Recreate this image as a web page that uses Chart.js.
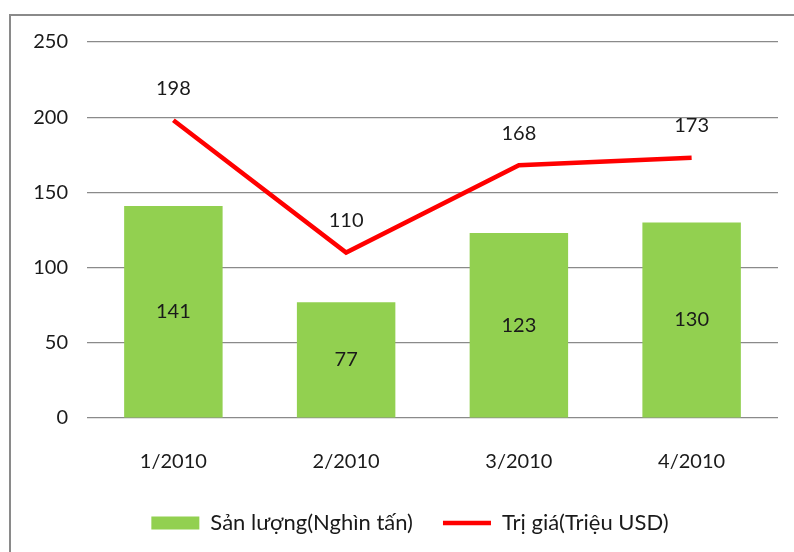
<!DOCTYPE html>
<html>
<head>
<meta charset="utf-8">
<script src="https://cdn.jsdelivr.net/npm/chart.js@4"></script>
<style>
  body { margin: 0; background: #fff; }
  #frame { position: absolute; left: 9px; top: 14px; width: 800px; height: 560px; border: 2px solid #8a8a8a; }
  #wrap { position: absolute; left: 0; top: 0; width: 794px; height: 552px; }
</style>
</head>
<body>
<div id="frame"></div>
<div id="wrap"><canvas id="chart" width="794" height="552"></canvas></div>
<script>
// data
let months = ["1/2010", "2/2010", "3/2010", "4/2010"];
let sanLuong = [141, 77, 123, 130];   // Nghìn tấn
let triGia = [198, 110, 168, 173];    // Triệu USD
let yTicks = [0, 50, 100, 150, 200, 250];

const FONT = "Lato";

// value labels: middle of the bar, above the line points
const valueLabels = {
  id: "valueLabels",
  afterDatasetsDraw(chart) {
    const ctx = chart.ctx;
    ctx.save();
    ctx.font = "20px " + FONT;
    ctx.fillStyle = "#1a1a1a";
    ctx.textAlign = "center";
    ctx.textBaseline = "middle";
    chart.getDatasetMeta(0).data.forEach((bar, i) => {
      ctx.fillText(sanLuong[i], bar.x, (bar.y + bar.base) / 2);
    });
    chart.getDatasetMeta(1).data.forEach((pt, i) => {
      ctx.fillText(triGia[i], pt.x, pt.y - 32);
    });
    ctx.restore();
  }
};

// legend sits a bit right of centre in the original
const shiftLegend = {
  id: "shiftLegend",
  afterLayout(chart) {
    chart.legend.left += 21;
    chart.legend.right += 21;
  }
};

let ctx = document.getElementById("chart").getContext("2d");
let myChart = new Chart(ctx, {
  data: {
    labels: months,
    datasets: [
      {
        type: "bar",
        label: "Sản lượng(Nghìn tấn)",
        data: sanLuong,
        backgroundColor: "#92D050",
        borderWidth: 0,
        barPercentage: 0.57,
        categoryPercentage: 1,
        pointStyle: "rect",
        order: 2,
      },
      {
        type: "line",
        label: "Trị giá(Triệu USD)",
        data: triGia,
        borderColor: "#FF0000",
        backgroundColor: "#FF0000",
        borderWidth: 4.5,
        pointRadius: 0,
        tension: 0,
        pointStyle: "line",
        order: 1,
      },
    ],
  },
  options: {
    responsive: false,
    animation: false,
    layout: { padding: { top: 42, right: 16, bottom: 8, left: 0 } },
    plugins: {
      tooltip: { enabled: false },
      legend: {
        position: "bottom",
        labels: {
          usePointStyle: true,
          pointStyleWidth: 48,
          boxHeight: 13,
          padding: 30,
          color: "#1a1a1a",
          font: { family: FONT, size: 22 },
          sort: (a, b) => a.datasetIndex - b.datasetIndex,
        },
      },
    },
    scales: {
      x: {
        grid: { display: false },
        border: { display: false },
        afterFit: (scale) => { scale.height = 64; },
        ticks: { color: "#1a1a1a", padding: 24, font: { family: FONT, size: 20 } },
      },
      y: {
        min: 0,
        max: 250,
        afterBuildTicks: (scale) => { scale.ticks = yTicks.map((v) => ({ value: v })); },
        afterFit: (scale) => { scale.width = 87; },
        grid: { color: "#8a8a8a", lineWidth: 1.2, drawTicks: false },
        border: { display: false },
        ticks: { color: "#1a1a1a", padding: 19, font: { family: FONT, size: 20 } },
      },
    },
  },
  plugins: [valueLabels, shiftLegend],
});
</script>
</body>
</html>
